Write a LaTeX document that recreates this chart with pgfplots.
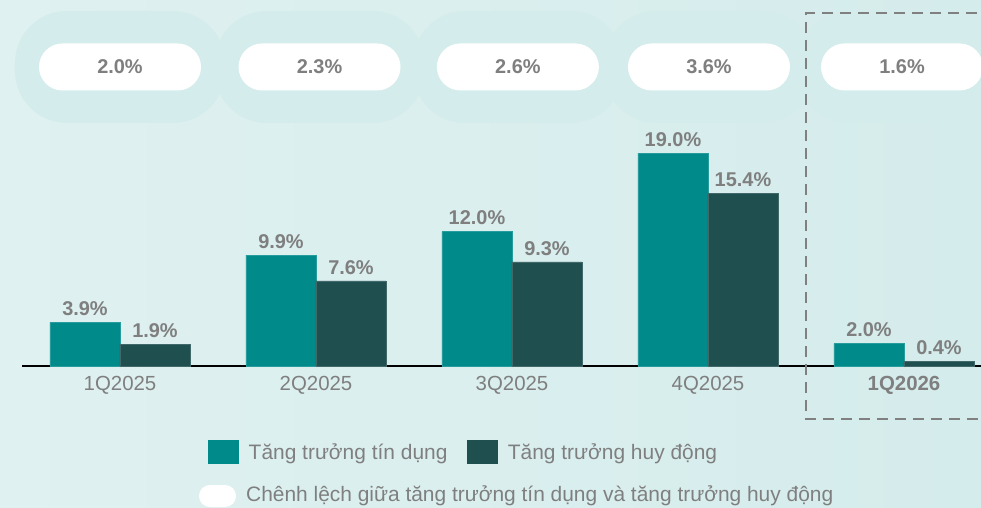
\documentclass[border=0pt]{standalone}
\usepackage{pgfplots}
\pgfplotsset{compat=1.18}
\usepackage{fontspec}
\setmainfont{Liberation Sans}
\definecolor{credit}{HTML}{008B8A}
\definecolor{deposit}{HTML}{1F4F4F}
\definecolor{txtgray}{HTML}{7F7F7F}
\definecolor{bgL}{HTML}{DFF1F0}
\definecolor{bgR}{HTML}{D5ECEC}
\definecolor{lobe}{HTML}{D5ECEC}
\definecolor{dashgray}{HTML}{808080}
\pgfplotstableread{
x credit deposit
0 3.9 1.9
1 9.9 7.6
2 12.0 9.3
3 19.0 15.4
4 2.0 0.4
}\bars
\pgfplotstableread{
x y diff
0     26.7 2.0
1.018 26.7 2.3
2.03  26.7 2.6
3.005 26.7 3.6
3.99  26.7 1.6
}\gaps
\begin{document}
\begin{tikzpicture}[x=1bp,y=1bp]
\path[use as bounding box] (0,0) rectangle (981,-508);
\shade[left color=bgL,right color=bgR] (0,0) rectangle (981,-508);
\begin{axis}[
  at={(22bp,-366bp)}, anchor=south west,
  scale only axis, width=959bp, height=224bp,
  xmin=-0.5, xmax=4.393, ymin=0, ymax=20,
  clip=false,
  axis x line=bottom, axis y line=none,
  axis line style={black, line width=1.8bp, -},
  xtick={0,1,2,3,4},
  xticklabels={1Q2025,2Q2025,3Q2025,4Q2025,\textbf{1Q2026}},
  major tick length=0pt,
  xticklabel style={font=\fontsize{20.5}{24}\selectfont, text=txtgray, yshift=-7bp},
  /pgf/number format/assume math mode=true,
  legend style={at={(axis description cs:0.194,-0.33)}, anchor=north west,
    inner sep=0pt, draw=none, fill=none, font=\fontsize{21}{25}\selectfont,
    text=txtgray,
    /tikz/every odd column/.append style={column sep=8bp},
    /tikz/every even column/.append style={column sep=18bp}},
  legend columns=2, legend cell align=left,
]
% decorative lobes behind the gap pills
\addplot[forget plot, draw=none, mark=none, point meta=explicit,
  nodes near coords={},
  every node near coord/.append style={anchor=center, fill=lobe, rounded corners=52bp,
    minimum width=210bp, minimum height=112bp, inner sep=0pt}]
  table[x=x, y=y, meta=diff] {\gaps};
% bars
\addplot[ybar, bar width=70bp, bar shift=-35bp, fill=credit, draw=credit!85!white, line width=0.5bp,
  nodes near coords={\pgfmathprintnumber[fixed,fixed zerofill,precision=1]{\pgfplotspointmeta}\%},
  every node near coord/.append style={font=\bfseries\fontsize{20}{24}\selectfont, text=txtgray, anchor=south, yshift=3bp, xshift=-35bp},
  legend image code/.code={\fill[credit] (0bp,-11.5bp) rectangle (30bp,11.5bp);}]
  table[x=x, y=credit] {\bars};
\addlegendentry{Tăng trưởng tín dụng}
\addplot[ybar, bar width=70bp, bar shift=35bp, fill=deposit, draw=deposit!85!white, line width=0.5bp,
  nodes near coords={\pgfmathprintnumber[fixed,fixed zerofill,precision=1]{\pgfplotspointmeta}\%},
  every node near coord/.append style={font=\bfseries\fontsize{20}{24}\selectfont, text=txtgray, anchor=south, yshift=3bp, xshift=35bp},
  legend image code/.code={\fill[deposit] (0bp,-11.5bp) rectangle (30bp,11.5bp);}]
  table[x=x, y=deposit] {\bars};
\addlegendentry{Tăng trưởng huy động}
% gap pills
\addplot[forget plot, draw=none, mark=none, point meta=explicit,
  nodes near coords={\pgfmathprintnumber[fixed,fixed zerofill,precision=1]{\pgfplotspointmeta}\%},
  every node near coord/.append style={anchor=center, fill=white, rounded corners=23.5bp,
    minimum width=162bp, minimum height=47bp, inner sep=0pt,
    font=\bfseries\fontsize{20}{24}\selectfont, text=txtgray}]
  table[x=x, y=y, meta=diff] {\gaps};
\end{axis}
% highlight frame around the latest quarter
\draw[dashgray, line width=2bp, dash pattern=on 11bp off 7bp] (995,-13) -- (806,-13) -- (806,-419) -- (995,-419);
% third legend row
\fill[white, rounded corners=11bp] (199,-485) rectangle (236,-507);
\node[anchor=west, inner sep=0pt, text=txtgray, font=\fontsize{21}{25}\selectfont] at (246,-496)
  {Chênh lệch giữa tăng trưởng tín dụng và tăng trưởng huy động};
\end{tikzpicture}
\end{document}
